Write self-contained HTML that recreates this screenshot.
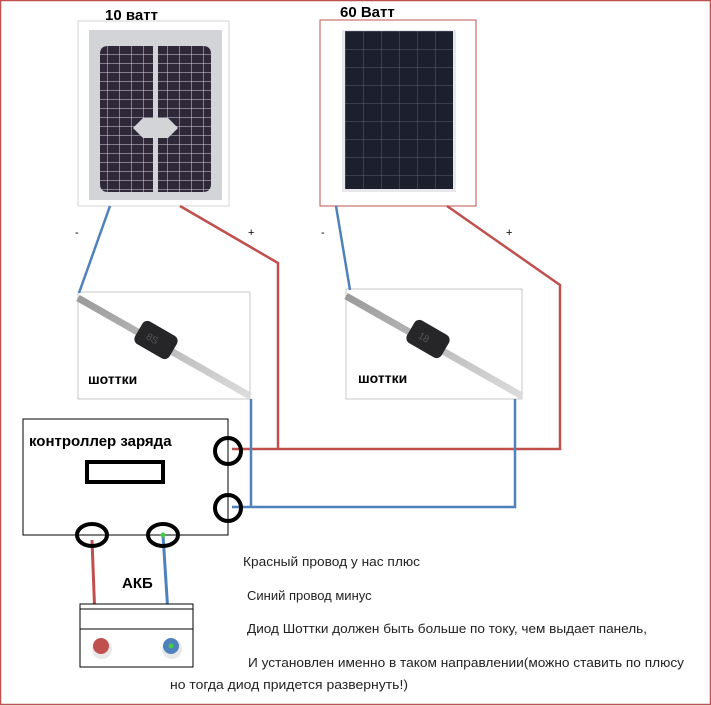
<!DOCTYPE html>
<html><head><meta charset="utf-8"><style>
body{margin:0;background:#fff}
svg{display:block}
text{font-family:"Liberation Sans","DejaVu Sans",sans-serif}
</style></head><body>
<svg width="711" height="706" viewBox="0 0 711 706" xmlns="http://www.w3.org/2000/svg">
<defs>
<pattern id="g1" width="12" height="9" patternUnits="userSpaceOnUse" x="95" y="45">
<rect width="12" height="9" fill="#2f2838"/><path d="M0 0H12M0 0V9" stroke="#d8d4dc" stroke-width="1"/>
</pattern>
<pattern id="g2" width="18" height="18" patternUnits="userSpaceOnUse" x="345" y="31">
<rect width="18" height="18" fill="#1c1f2e"/><path d="M0 0H18M0 0V18" stroke="#6a6f80" stroke-width="0.8"/>
</pattern>
<linearGradient id="wire" x1="0" y1="0" x2="1" y2="1"><stop offset="0" stop-color="#9a9a9a"/><stop offset="1" stop-color="#dcdcdc"/></linearGradient>
</defs>
<rect x="0.5" y="0.5" width="710" height="704" fill="#fff" stroke="#c0504d" stroke-width="1.5"/>

<!-- panel 1 -->
<text x="105" y="20" font-size="15" font-weight="bold">10 ватт</text>
<rect x="78" y="21" width="151" height="185" fill="#fff" stroke="#ccc" stroke-width="0.8"/>
<rect x="89" y="30" width="133" height="170" fill="#d2d4d8"/>
<path d="M108 46h45v72h-10l-10 10 10 10h10v54h-45q-8 0-8-8v-130q0-8 8-8zM158 46h45q8 0 8 8v130q0 8-8 8h-45v-54h10l10-10-10-10h-10z" fill="url(#g1)"/>
<!-- panel 2 -->
<text x="340" y="17" font-size="15" font-weight="bold">60 Ватт</text>
<rect x="320" y="20" width="156" height="186" fill="#fff" stroke="#c0504d" stroke-width="1"/>
<rect x="342" y="30" width="114" height="162" fill="#e8e8ea"/>
<rect x="345" y="31" width="108" height="158" fill="url(#g2)"/>

<text x="75" y="236" font-size="11">-</text>
<text x="248" y="236" font-size="11">+</text>
<text x="321" y="236" font-size="11">-</text>
<text x="506" y="236" font-size="11">+</text>

<!-- diode boxes -->
<rect x="78" y="292" width="172" height="107" fill="#fff" stroke="#bbb" stroke-width="0.8"/>
<line x1="78" y1="298" x2="250" y2="396" stroke="url(#wire)" stroke-width="7"/>
<g transform="translate(156,340) rotate(30)"><rect x="-20" y="-13" width="40" height="26" rx="6" fill="#262628"/><text x="-10" y="4" font-size="10" fill="#555">8S</text></g>
<text x="88" y="384" font-size="14" font-weight="bold">шоттки</text>
<rect x="346" y="289" width="176" height="110" fill="#fff" stroke="#bbb" stroke-width="0.8"/>
<line x1="346" y1="296" x2="522" y2="396" stroke="url(#wire)" stroke-width="7"/>
<g transform="translate(428,339) rotate(30)"><rect x="-20" y="-13" width="40" height="26" rx="6" fill="#262628"/><text x="-10" y="4" font-size="10" fill="#555">18</text></g>
<text x="358" y="383" font-size="14" font-weight="bold">шоттки</text>

<!-- wires -->
<g fill="none" stroke-width="2.5">
<path d="M110 206L79 293" stroke="#4f81bd"/>
<path d="M336 206L350 290" stroke="#4f81bd"/>
<path d="M180 206L278 263V449" stroke="#c0504d"/>
<path d="M447 206L560 285V449H232" stroke="#c0504d"/>
<path d="M251 399V507" stroke="#4f81bd"/>
<path d="M515 399V507H232" stroke="#4f81bd"/>
<path d="M92 540L96 645" stroke="#c0504d" stroke-width="3"/>
<path d="M163 535L170 645" stroke="#4f81bd" stroke-width="3"/>
</g>

<!-- controller -->
<rect x="23" y="419" width="205" height="116" fill="none" stroke="#000" stroke-width="1"/>
<text x="29" y="446" font-size="15" font-weight="bold">контроллер заряда</text>
<rect x="87" y="462" width="76" height="20" fill="none" stroke="#000" stroke-width="4"/>
<g fill="none" stroke="#000" stroke-width="4">
<ellipse cx="228" cy="451" rx="13" ry="13"/>
<ellipse cx="228" cy="508" rx="13" ry="13"/>
<ellipse cx="92" cy="535" rx="15" ry="11"/>
<ellipse cx="163" cy="535" rx="15" ry="11"/>
</g>
<circle cx="163" cy="535" r="2.5" fill="#4c4"/>

<!-- battery -->
<text x="122" y="588" font-size="15" font-weight="bold">АКБ</text>
<rect x="80" y="604" width="113" height="63" fill="#fff" stroke="#000" stroke-width="1"/>
<line x1="80" y1="609" x2="193" y2="609" stroke="#000"/>
<line x1="80" y1="629" x2="193" y2="629" stroke="#000"/>
<circle cx="102" cy="649" r="10" fill="#e8e8e8"/><circle cx="101" cy="646" r="8" fill="#c0504d"/>
<circle cx="172" cy="649" r="10" fill="#e8e8e8"/><circle cx="171" cy="646" r="8" fill="#4f81bd"/><circle cx="171" cy="646" r="2.5" fill="#4c4"/>

<g font-size="13" fill="#222">
<text x="243" y="566" textLength="177" lengthAdjust="spacingAndGlyphs">Красный провод у нас плюс</text>
<text x="247" y="600">Синий провод минус</text>
<text x="247" y="633" textLength="400" lengthAdjust="spacingAndGlyphs">Диод Шоттки должен быть больше по току, чем выдает панель,</text>
<text x="248" y="667" textLength="436" lengthAdjust="spacingAndGlyphs">И установлен именно в таком направлении(можно ставить по  плюсу</text>
<text x="170" y="689" textLength="238" lengthAdjust="spacingAndGlyphs">но   тогда диод придется развернуть!)</text>
</g>
</svg>
</body></html>
